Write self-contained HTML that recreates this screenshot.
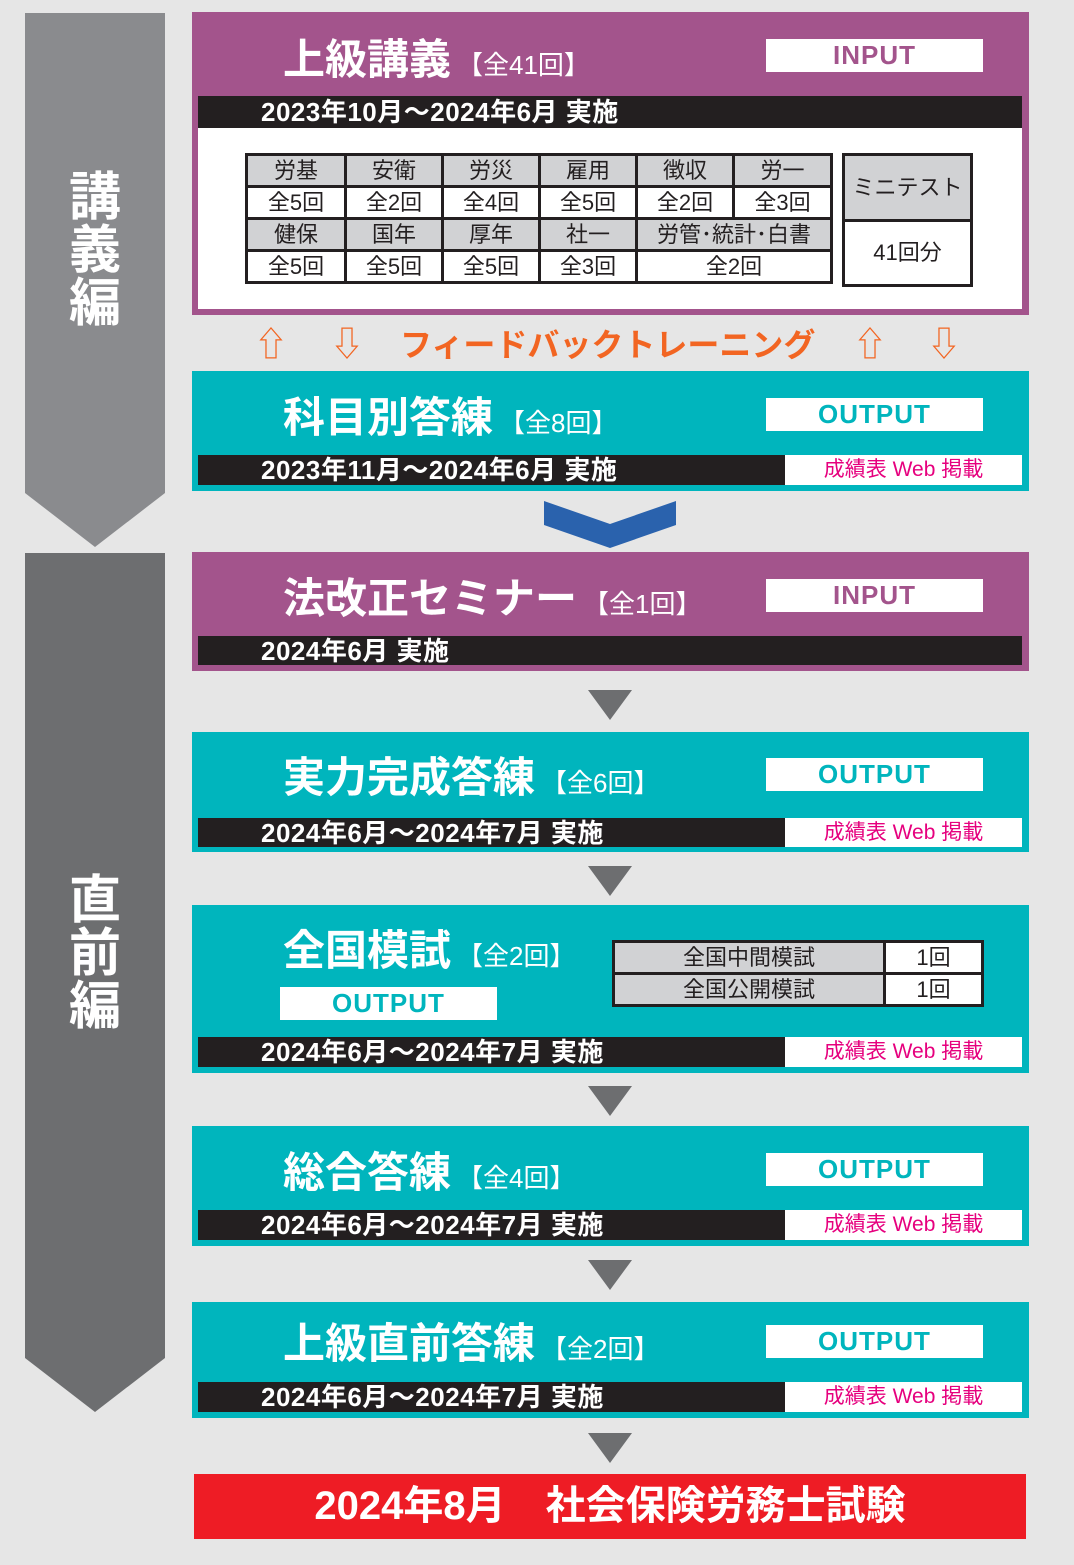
<!DOCTYPE html>
<html><head><meta charset="utf-8"><style>
*{margin:0;padding:0;box-sizing:border-box}
body{width:1074px;height:1565px;background:#e6e6e6;position:relative;overflow:hidden;font-family:"Liberation Sans","Noto Sans CJK JP",sans-serif}
.a{position:absolute}
.pur{background:#a3548c}
.tea{background:#00b5bd}
.bar{position:absolute;background:#231f20;color:#fff;font-size:26px;font-weight:bold;line-height:30px;padding-left:63px;white-space:nowrap;letter-spacing:0.5px}
.ttl{position:absolute;left:283px;color:#fff;font-weight:bold;font-size:42px;white-space:nowrap;line-height:50px}
.ttl small{font-size:26px;font-weight:normal;margin-left:6px}
.tag{position:absolute;left:766px;width:217px;height:33px;background:#fff;text-align:center;font-weight:bold;font-size:26px;line-height:33px;letter-spacing:1px}
.in{color:#a3548c}.out{color:#00b5bd}
.web{position:absolute;left:785px;width:237px;background:#fff;color:#e6007e;font-size:21px;text-align:center;line-height:30px}
.tri{position:absolute;left:588px;width:0;height:0;border-left:22px solid transparent;border-right:22px solid transparent;border-top:30px solid #6d6e70}
table{border-collapse:collapse;table-layout:fixed}
td{border:3px solid #231f20;text-align:center;font-size:22px;color:#231f20;padding:0;height:32px;line-height:26px;white-space:nowrap}
.g{background:#d1d2d4}
.w{background:#fff}
.side{position:absolute;left:25px;width:140px;color:#fff;font-weight:bold;font-size:52px;line-height:53px;text-align:center}
.fb{position:absolute;top:322px;font-size:34px;color:#f26522;line-height:46px}
</style></head><body>
<svg class="a" style="left:0;top:0" width="1074" height="1565">
<polygon points="25,13 165,13 165,493 95,547 25,493" fill="#8a8b8e"/>
<polygon points="25,553 165,553 165,1358 95,1412 25,1358" fill="#6d6e70"/>
<polygon points="544,501 610,524 676,501 676,525 610,548 544,525" fill="#2a62ad"/>
</svg>
<div class="side" style="top:172px">講<br>義<br>編</div>
<div class="side" style="top:875px">直<br>前<br>編</div>

<!-- 1 -->
<div class="a pur" style="left:192px;top:12px;width:837px;height:303px"></div>
<div class="ttl" style="top:35px">上級講義<small>【全41回】</small></div>
<div class="tag in" style="top:39px">INPUT</div>
<div class="bar" style="left:198px;top:96px;width:824px;height:32px;line-height:32px">2023年10月～2024年6月 実施</div>
<div class="a" style="left:198px;top:128px;width:824px;height:181px;background:#fff"></div>
<table class="a" style="left:245px;top:153px;width:585px">
<colgroup><col style="width:99px"><col style="width:97px"><col style="width:97px"><col style="width:97px"><col style="width:97px"><col style="width:98px"></colgroup>
<tr><td class="g">労基</td><td class="g">安衛</td><td class="g">労災</td><td class="g">雇用</td><td class="g">徴収</td><td class="g">労一</td></tr>
<tr><td class="w">全5回</td><td class="w">全2回</td><td class="w">全4回</td><td class="w">全5回</td><td class="w">全2回</td><td class="w">全3回</td></tr>
<tr><td class="g">健保</td><td class="g">国年</td><td class="g">厚年</td><td class="g">社一</td><td class="g" colspan="2">労管･統計･白書</td></tr>
<tr><td class="w">全5回</td><td class="w">全5回</td><td class="w">全5回</td><td class="w">全3回</td><td class="w" colspan="2">全2回</td></tr>
</table>
<table class="a" style="left:842px;top:153px;width:131px">
<tr><td class="g" style="height:66px">ミニテスト</td></tr>
<tr><td class="w" style="height:65px">41回分</td></tr>
</table>

<!-- feedback -->
<div class="fb" style="left:254px">⇧</div>
<div class="fb" style="left:330px">⇩</div>
<div class="a" style="left:400px;top:322px;font-size:32px;font-weight:bold;color:#f26522;line-height:46px;white-space:nowrap">フィードバックトレーニング</div>
<div class="fb" style="left:853px">⇧</div>
<div class="fb" style="left:927px">⇩</div>

<!-- 2 -->
<div class="a tea" style="left:192px;top:371px;width:837px;height:120px"></div>
<div class="ttl" style="top:393px">科目別答練<small>【全8回】</small></div>
<div class="tag out" style="top:398px">OUTPUT</div>
<div class="bar" style="left:198px;top:455px;width:587px;height:30px">2023年11月～2024年6月 実施</div>
<div class="web" style="top:455px;height:30px">成績表 Web 掲載</div>

<!-- 3 -->
<div class="a pur" style="left:192px;top:552px;width:837px;height:119px"></div>
<div class="ttl" style="top:574px">法改正セミナー<small>【全1回】</small></div>
<div class="tag in" style="top:579px">INPUT</div>
<div class="bar" style="left:198px;top:636px;width:824px;height:29px">2024年6月 実施</div>
<div class="tri" style="top:690px"></div>

<!-- 4 -->
<div class="a tea" style="left:192px;top:732px;width:837px;height:120px"></div>
<div class="ttl" style="top:753px">実力完成答練<small>【全6回】</small></div>
<div class="tag out" style="top:758px">OUTPUT</div>
<div class="bar" style="left:198px;top:818px;width:587px;height:29px">2024年6月～2024年7月 実施</div>
<div class="web" style="top:818px;height:29px">成績表 Web 掲載</div>
<div class="tri" style="top:866px"></div>

<!-- 5 -->
<div class="a tea" style="left:192px;top:905px;width:837px;height:168px"></div>
<div class="ttl" style="top:926px">全国模試<small>【全2回】</small></div>
<div class="tag out" style="top:987px;left:280px">OUTPUT</div>
<table class="a" style="left:612px;top:940px;width:369px">
<colgroup><col style="width:271px"><col style="width:98px"></colgroup>
<tr><td class="g">全国中間模試</td><td class="w">1回</td></tr>
<tr><td class="g">全国公開模試</td><td class="w">1回</td></tr>
</table>
<div class="bar" style="left:198px;top:1037px;width:587px;height:30px">2024年6月～2024年7月 実施</div>
<div class="web" style="top:1037px;height:30px">成績表 Web 掲載</div>
<div class="tri" style="top:1086px"></div>

<!-- 6 -->
<div class="a tea" style="left:192px;top:1126px;width:837px;height:120px"></div>
<div class="ttl" style="top:1148px">総合答練<small>【全4回】</small></div>
<div class="tag out" style="top:1153px">OUTPUT</div>
<div class="bar" style="left:198px;top:1210px;width:587px;height:30px">2024年6月～2024年7月 実施</div>
<div class="web" style="top:1210px;height:30px">成績表 Web 掲載</div>
<div class="tri" style="top:1260px"></div>

<!-- 7 -->
<div class="a tea" style="left:192px;top:1302px;width:837px;height:116px"></div>
<div class="ttl" style="top:1319px">上級直前答練<small>【全2回】</small></div>
<div class="tag out" style="top:1325px">OUTPUT</div>
<div class="bar" style="left:198px;top:1382px;width:587px;height:30px">2024年6月～2024年7月 実施</div>
<div class="web" style="top:1382px;height:30px">成績表 Web 掲載</div>
<div class="tri" style="top:1433px"></div>

<div class="a" style="left:194px;top:1474px;width:832px;height:65px;background:#ee1c25;color:#fff;font-weight:bold;font-size:40px;line-height:65px;text-align:center;white-space:nowrap">2024年8月　社会保険労務士試験</div>
</body></html>
